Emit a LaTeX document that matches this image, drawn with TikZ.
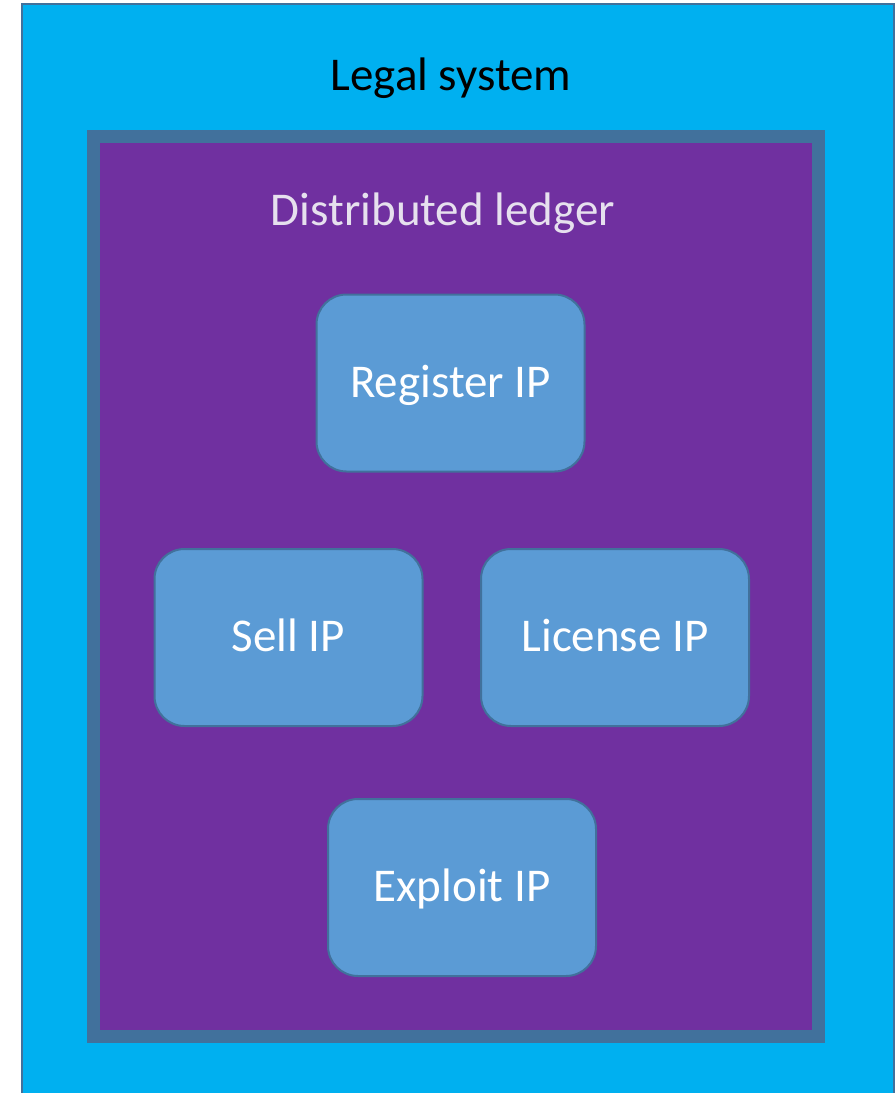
\documentclass[tikz,border=0pt]{standalone}
\usepackage{fontspec}
\setmainfont{Carlito}
\usepackage{tikz}

\definecolor{legalblue}{HTML}{00B0F0}
\definecolor{ledgerpurple}{HTML}{7030A0}
\definecolor{edgeblue}{HTML}{41719C}
\definecolor{taskblue}{HTML}{5B9BD5}
\definecolor{ledgertext}{HTML}{E6E0EE}

\tikzset{
  task/.style={draw=edgeblue, line width=2pt, fill=taskblue, rounded corners=30pt,
    minimum width=268pt, minimum height=177pt, text=white,
    font=\fontsize{47}{56}\selectfont},
  caption/.style={font=\fontsize{47}{56}\selectfont, yshift=-3pt}
}

\begin{document}
\begin{tikzpicture}[x=1pt, y=-1pt]
  \useasboundingbox (0,0) rectangle (895,1093);

  % Legal system
  \draw[edgeblue, line width=2pt, fill=legalblue] (22,4) rectangle (894,1100);
  \node[caption, text=black] (legal) at (451,75) {Legal system};

  % Distributed ledger
  \draw[edgeblue, line width=13pt, fill=ledgerpurple] (93.5,136) rectangle (818.5,1036);
  \node[caption, text=ledgertext] (ledger) at (443,210) {Distributed ledger};

  % Actions on the ledger
  \node[task, text depth=4pt] (register) at (450.5,383) {Register IP};
  \node[task, text depth=4pt] (sell) at (288.5,637.5) {Sell IP};
  \node[task, text depth=4pt] (license) at (615,637.5) {License IP};
  \node[task, text depth=4pt] (exploit) at (462,887.5) {Exploit IP};
\end{tikzpicture}
\end{document}
